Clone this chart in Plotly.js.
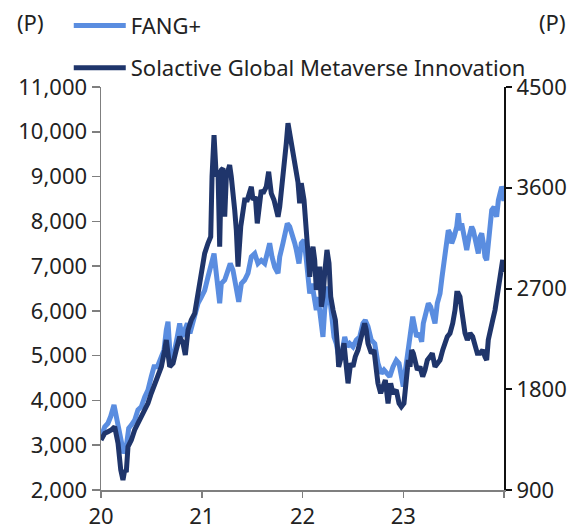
<!DOCTYPE html>
<html>
<head>
<meta charset="utf-8">
<script src="https://cdn.plot.ly/plotly-3.0.1.min.js"></script>
<style>html,body{margin:0;padding:0;background:#fff;}#chart{width:579px;height:527px;}</style>
</head>
<body>
<div id="chart"></div>
<script>
// Time in fractional years (2020.0 = start of 2020)
const fangX = [2020.000,2020.037,2020.069,2020.096,2020.129,2020.152,2020.176,2020.201,2020.225,2020.251,2020.275,2020.301,2020.334,2020.367,2020.400,2020.434,2020.466,2020.499,2020.526,2020.559,2020.593,2020.625,2020.648,2020.665,2020.692,2020.725,2020.757,2020.781,2020.804,2020.831,2020.857,2020.883,2020.913,2020.946,2020.963,2020.996,2021.029,2021.062,2021.095,2021.122,2021.144,2021.161,2021.178,2021.194,2021.228,2021.261,2021.283,2021.310,2021.333,2021.353,2021.367,2021.393,2021.426,2021.459,2021.492,2021.526,2021.558,2021.591,2021.625,2021.658,2021.674,2021.697,2021.724,2021.757,2021.774,2021.806,2021.823,2021.849,2021.873,2021.896,2021.923,2021.939,2021.965,2021.988,2022.015,2022.035,2022.048,2022.072,2022.094,2022.121,2022.137,2022.154,2022.181,2022.203,2022.220,2022.253,2022.270,2022.286,2022.313,2022.336,2022.359,2022.385,2022.419,2022.445,2022.469,2022.501,2022.534,2022.568,2022.600,2022.623,2022.650,2022.683,2022.717,2022.749,2022.782,2022.809,2022.832,2022.866,2022.898,2022.931,2022.958,2022.981,2023.000,2023.017,2023.034,2023.050,2023.074,2023.094,2023.107,2023.133,2023.159,2023.183,2023.199,2023.226,2023.249,2023.272,2023.298,2023.315,2023.338,2023.365,2023.385,2023.404,2023.424,2023.447,2023.464,2023.481,2023.504,2023.531,2023.546,2023.563,2023.580,2023.596,2023.613,2023.630,2023.653,2023.679,2023.695,2023.712,2023.729,2023.745,2023.762,2023.779,2023.795,2023.811,2023.828,2023.844,2023.861,2023.878,2023.901,2023.927,2023.944,2023.960,2023.977,2023.993,2023.998];
const fangY = [3180,3410,3490,3640,3900,3640,3270,2970,2820,2970,3380,3450,3560,3790,3860,4080,4230,4530,4750,4750,4980,5120,5570,5760,4800,5050,5420,5720,5420,5570,5720,5500,5720,6020,6170,6310,6460,6760,7060,7280,6840,6540,6170,6610,6690,6910,7060,6910,6610,6310,6200,6610,6690,6840,7210,7280,7060,7130,7060,7360,7510,7210,6980,6840,7210,7510,7730,7950,7880,7730,7510,7360,7060,7510,7580,7210,6910,6390,6610,6170,6020,6310,5870,5420,6020,6540,6310,6020,5420,5270,4980,4980,5420,5200,5270,5200,5350,5420,5720,5790,5650,5350,5270,4830,4600,4680,4600,4530,4750,4900,4830,4530,4310,4600,4900,5050,5570,5870,5720,5420,5500,5310,5720,5940,6170,6090,5870,5720,6170,6390,6760,7130,7360,7800,7730,7510,7650,7880,8180,7800,7950,7730,7510,7360,7650,7880,7800,7580,7360,7280,7650,7730,7510,7210,7130,7510,7880,8250,8320,8100,8470,8700,8770,8700,8450];

const metaX = [2020.000,2020.037,2020.069,2020.102,2020.136,2020.169,2020.196,2020.218,2020.235,2020.251,2020.268,2020.301,2020.334,2020.367,2020.400,2020.434,2020.466,2020.499,2020.533,2020.566,2020.599,2020.632,2020.648,2020.682,2020.715,2020.747,2020.781,2020.814,2020.837,2020.864,2020.896,2020.930,2020.963,2020.996,2021.029,2021.062,2021.089,2021.102,2021.122,2021.144,2021.161,2021.178,2021.194,2021.211,2021.228,2021.244,2021.261,2021.277,2021.293,2021.310,2021.327,2021.343,2021.360,2021.387,2021.409,2021.426,2021.452,2021.476,2021.492,2021.509,2021.532,2021.551,2021.575,2021.591,2021.608,2021.625,2021.641,2021.664,2021.690,2021.717,2021.740,2021.757,2021.774,2021.790,2021.806,2021.823,2021.839,2021.856,2021.873,2021.889,2021.906,2021.923,2021.939,2021.955,2021.972,2021.988,2022.015,2022.035,2022.055,2022.072,2022.088,2022.104,2022.121,2022.137,2022.154,2022.171,2022.187,2022.203,2022.220,2022.243,2022.263,2022.280,2022.303,2022.326,2022.345,2022.359,2022.385,2022.412,2022.435,2022.452,2022.478,2022.501,2022.524,2022.551,2022.584,2022.617,2022.633,2022.650,2022.683,2022.710,2022.733,2022.749,2022.776,2022.799,2022.822,2022.849,2022.875,2022.898,2022.931,2022.958,2022.981,2023.007,2023.017,2023.034,2023.050,2023.067,2023.084,2023.100,2023.117,2023.140,2023.166,2023.193,2023.216,2023.239,2023.266,2023.288,2023.315,2023.338,2023.365,2023.392,2023.414,2023.437,2023.464,2023.491,2023.514,2023.531,2023.546,2023.563,2023.580,2023.596,2023.613,2023.636,2023.663,2023.689,2023.712,2023.735,2023.762,2023.789,2023.811,2023.828,2023.844,2023.861,2023.888,2023.911,2023.934,2023.953,2023.970,2023.987,2023.998];
const metaY = [1347,1406,1421,1436,1465,1317,1079,989,1079,1061,1287,1347,1436,1496,1555,1615,1674,1764,1853,1912,2001,2151,2240,2001,2032,2151,2269,2210,2106,2329,2419,2478,2642,2865,3014,3104,3163,3699,4071,3699,3759,3073,3759,3774,3341,3699,3759,3803,3699,3580,3401,3223,2895,3252,3372,3491,3491,3580,3609,3491,3520,3282,3520,3580,3550,3580,3609,3743,3550,3491,3401,3341,3431,3550,3699,3788,3997,4176,4086,3967,3877,3848,3759,3650,3461,3640,3491,3252,3104,2805,2984,3073,2955,2687,2805,2895,2537,2627,2836,3044,2925,2627,2508,2419,2210,2001,2091,2210,2001,1853,2032,2001,2091,2151,2269,2389,2329,2210,2121,2151,1972,1853,1764,1823,1883,1674,1853,1764,1793,1674,1644,1674,1764,1942,2061,2001,2151,2121,2032,1972,2001,1912,1972,2061,2091,2121,2001,2032,2061,2151,2210,2269,2300,2389,2508,2657,2657,2627,2508,2389,2300,2240,2300,2269,2180,2121,2121,2151,2091,2061,2240,2329,2419,2508,2657,2716,2865,2955,2847];

const xTickVals = [2020, 2021, 2022, 2023, 2024];
const xTickText = ['20', '21', '22', '23', ''];
const seriesNames = ['FANG+', 'Solactive Global Metaverse Innovation'];

const FONT = '"Noto Sans", "Open Sans", sans-serif';
const TXT = '#222';
const traces = [
  {x: fangX, y: fangY, name: seriesNames[0], type: 'scatter', mode: 'lines',
   line: {color: '#5a8de0', width: 5}, legendgroup: 'a', yaxis: 'y'},
  {x: metaX, y: metaY, name: seriesNames[1], type: 'scatter', mode: 'lines',
   line: {color: '#1f356b', width: 5}, legendgroup: 'b', yaxis: 'y2'}
];
const layout = {
  width: 579, height: 527,
  margin: {l: 101, r: 75, t: 87, b: 37, autoexpand: false},
  paper_bgcolor: '#fff', plot_bgcolor: '#fff',
  font: {family: FONT, size: 22, color: TXT},
  showlegend: true,
  legend: {x: -0.08, y: 1.204, xanchor: 'left', yanchor: 'top', bgcolor: 'rgba(0,0,0,0)',
           font: {family: FONT, size: 22, color: TXT}, tracegroupgap: 10.5, itemwidth: 52,
           traceorder: 'grouped'},
  xaxis: {range: [2020, 2024], tickvals: xTickVals, ticktext: xTickText, ticks: 'outside',
          ticklen: 6, tickwidth: 1.5, tickcolor: '#7f7f7f', showline: true, linecolor: '#7f7f7f',
          linewidth: 1.5, showgrid: false, zeroline: false, automargin: false,
          tickfont: {size: 22, color: TXT}},
  yaxis: {range: [2000, 11000], dtick: 1000, tickformat: ',d', ticks: 'outside', ticklen: 8,
          tickwidth: 1.5, tickcolor: '#7f7f7f', showline: true, linecolor: '#7f7f7f', linewidth: 1.5,
          showgrid: false, zeroline: false, automargin: false, tickfont: {size: 22, color: TXT}},
  yaxis2: {range: [900, 4500], dtick: 900, tickformat: 'd', overlaying: 'y', side: 'right',
           ticks: 'outside', ticklen: 6, tickwidth: 2, tickcolor: '#111', showline: true,
           linecolor: '#111', linewidth: 2, showgrid: false, zeroline: false, automargin: false,
           tickfont: {size: 22, color: TXT}},
  annotations: [
    {text: '(P)', xref: 'paper', yref: 'paper', x: -0.174, y: 1.161, xanchor: 'center', yanchor: 'middle',
     showarrow: false, font: {family: FONT, size: 22, color: TXT}},
    {text: '(P)', xref: 'paper', yref: 'paper', x: 1.12, y: 1.161, xanchor: 'center', yanchor: 'middle',
     showarrow: false, font: {family: FONT, size: 22, color: TXT}}
  ]
};
Plotly.newPlot('chart', traces, layout, {displayModeBar: false, staticPlot: true});
</script>
</body>
</html>
